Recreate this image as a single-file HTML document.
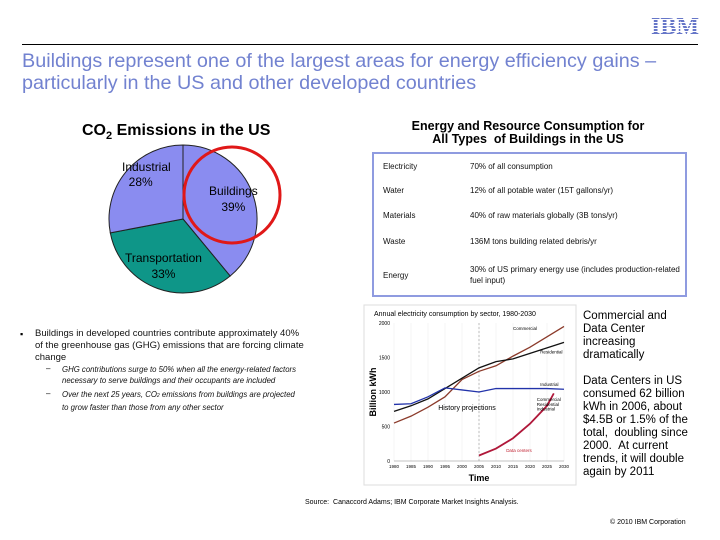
<!DOCTYPE html>
<html><head><meta charset="utf-8"><style>
body{margin:0;width:720px;height:540px;background:#fff;position:relative;overflow:hidden;font-family:"Liberation Sans",sans-serif;}
.a{position:absolute;white-space:nowrap;}
.tbl td{font-size:8px;color:#111;padding:0;}
</style></head><body>
<div class="a" style="left:651px;top:14px;font:bold 24px 'Liberation Serif',serif;color:#6676c8;letter-spacing:0px;">IBM</div>
<div class="a" style="left:648px;top:17px;width:52px;height:24px;background:repeating-linear-gradient(transparent 0 2px,#fff 2px 3px);"></div>
<div class="a" style="left:22px;top:44px;width:676px;height:1px;background:#000"></div>
<div class="a" style="left:22px;top:50px;font-size:19.8px;line-height:22px;color:#7282d0;">Buildings represent one of the largest areas for energy efficiency gains –<br>particularly in the US and other developed countries</div>

<div class="a" style="left:82px;top:122px;font-size:16px;font-weight:bold;">CO<sub style="font-size:11px">2</sub> Emissions in the US</div>
<svg class="a" style="left:0;top:0" width="720" height="540">
<g id="pie"></g>
<circle cx="232" cy="195" r="48" fill="none" stroke="#e01818" stroke-width="3"/>
</svg>
<div class="a" style="left:122px;top:160px;font-size:12px;line-height:15px;text-align:left">Industrial<br>&nbsp;&nbsp;28%</div>
<div class="a" style="left:209px;top:183px;font-size:12px;line-height:16px;text-align:center">Buildings<br>39%</div>
<div class="a" style="left:125px;top:250px;font-size:12px;line-height:16px;text-align:center">Transportation<br>33%</div>

<div class="a" style="left:380px;top:120px;width:296px;text-align:center;font-size:12.5px;font-weight:bold;line-height:13px;">Energy and Resource Consumption for<br>All Types &nbsp;of Buildings in the US</div>
<div class="a" style="left:372px;top:152px;width:311px;height:141px;border:2px solid #8f9be0;">
<table class="tbl" style="border-collapse:collapse;margin-left:9px;">
<tr style="height:24px"><td style="width:87px">Electricity</td><td>70% of all consumption</td></tr>
<tr style="height:25px"><td>Water</td><td>12% of all potable water (15T gallons/yr)</td></tr>
<tr style="height:25px"><td>Materials</td><td>40% of raw materials globally (3B tons/yr)</td></tr>
<tr style="height:27px"><td>Waste</td><td>136M tons building related debris/yr</td></tr>
<tr style="height:40px"><td>Energy</td><td style="line-height:11px">30% of US primary energy use (includes production-related<br>fuel input)</td></tr>
</table></div>

<div class="a" style="left:20px;top:328px;font-size:9px;line-height:12px">▪</div>
<div class="a" style="left:35px;top:328px;font-size:9.5px;line-height:12px;color:#111">Buildings in developed countries contribute approximately 40%<br>of the greenhouse gas (GHG) emissions that are forcing climate<br>change</div>
<div class="a" style="left:46px;top:364px;font-size:8px;line-height:10px">–</div>
<div class="a" style="left:62px;top:364px;font-size:7.8px;line-height:11px;color:#111;font-style:italic">GHG contributions surge to 50% when all the energy-related factors<br>necessary to serve buildings and their occupants are included</div>
<div class="a" style="left:46px;top:389px;font-size:8px;line-height:10px">–</div>
<div class="a" style="left:62px;top:389px;font-size:7.8px;line-height:11px;color:#111;font-style:italic">Over the next 25 years, CO<span style="font-size:5px">2</span> emissions from buildings are projected<br>to grow faster than those from any other sector</div>

<svg class="a" style="left:0;top:0" width="720" height="540" id="lc">
<rect x="364" y="305" width="212" height="180" fill="#fff" stroke="#ddd"/>
<text x="374" y="316" font-size="7" font-family="Liberation Sans">Annual electricity consumption by sector, 1980-2030</text>
<text transform="translate(376,392) rotate(-90)" text-anchor="middle" font-size="9" font-weight="bold" font-family="Liberation Sans">Billion kWh</text>
<text x="479" y="481" text-anchor="middle" font-size="9" font-weight="bold" font-family="Liberation Sans">Time</text>
<g id="lcg"></g>
</svg>

<div class="a" style="left:583px;top:310px;font-size:11.5px;line-height:13px">Commercial and<br>Data Center<br>increasing<br>dramatically</div>
<div class="a" style="left:583px;top:375px;font-size:11.5px;line-height:13px">Data Centers in US<br>consumed 62 billion<br>kWh in 2006, about<br>$4.5B or 1.5% of the<br>total, &nbsp;doubling since<br>2000. &nbsp;At current<br>trends, it will double<br>again by 2011</div>
<div class="a" style="left:305px;top:499px;font-size:7px">Source: &nbsp;Canaccord Adams; IBM Corporate Market Insights Analysis.</div>
<div class="a" style="left:610px;top:519px;font-size:7px">© 2010 IBM Corporation</div>

<script>
const pieLabels=["Buildings","Transportation","Industrial"];
const pieValues=[39,33,28];
const pieColors=["#8a8cf0","#0e9688","#8a8cf0"];
const years=[1980,1985,1990,1995,2000,2005,2010,2015,2020,2025,2030];
const commercial=[550,650,780,930,1180,1300,1380,1520,1650,1800,1950];
const residential=[720,800,900,1050,1200,1350,1440,1480,1560,1640,1720];
const industrial=[820,830,930,1060,1030,1000,1050,1050,1050,1050,1040];
const dcYears=[2005,2010,2015,2020,2025,2027];
const dataCenters=[80,180,330,540,800,980];
const yTicks=[0,500,1000,1500,2000];
const xTicks=[1980,1985,1990,1995,2000,2005,2010,2015,2020,2025,2030];
const NS="http://www.w3.org/2000/svg";
const pg=document.getElementById('pie');
const cx=183,cy=219,r=74,tot=pieValues.reduce((a,b)=>a+b,0);
let ang=-Math.PI/2;
pieValues.forEach((v,i)=>{
 const a2=ang+v/tot*2*Math.PI;
 const p=document.createElementNS(NS,'path');
 const x1=cx+r*Math.cos(ang),y1=cy+r*Math.sin(ang),x2=cx+r*Math.cos(a2),y2=cy+r*Math.sin(a2);
 p.setAttribute('d',`M${cx},${cy}L${x1},${y1}A${r},${r} 0 ${a2-ang>Math.PI?1:0} 1 ${x2},${y2}Z`);
 p.setAttribute('fill',pieColors[i]);p.setAttribute('stroke','#222');p.setAttribute('stroke-width','1');
 
 
 pg.appendChild(p);ang=a2;
});
const g=document.getElementById('lcg');
const X=y=>394+(y-1980)/50*170, Y=v=>461-v/2000*138;
function el(t,at){const e=document.createElementNS(NS,t);for(const k in at)e.setAttribute(k,at[k]);g.appendChild(e);return e;}
yTicks.forEach(t=>{const e=el('text',{x:390,y:Y(t)+2,'text-anchor':'end','font-size':5,'font-family':'Liberation Sans'});e.textContent=t;});
xTicks.forEach(t=>{el('line',{x1:X(t),x2:X(t),y1:Y(2000),y2:Y(0),stroke:'#eee','stroke-width':0.6});const e=el('text',{x:X(t),y:Y(0)+7,'text-anchor':'middle','font-size':4.5,'font-family':'Liberation Sans'});e.textContent=t;});
el('line',{x1:X(1980),x2:X(2030),y1:Y(0),y2:Y(0),stroke:'#888','stroke-width':0.6});
el('line',{x1:X(2005),x2:X(2005),y1:Y(2000),y2:Y(0),stroke:'#999','stroke-dasharray':'2,2','stroke-width':0.6});
function series(xs,vs,col,w,name){const p=el('polyline',{points:vs.map((v,i)=>X(xs[i])+','+Y(v)).join(' '),fill:'none',stroke:col,'stroke-width':w});}
series(years,commercial,'#8b3a2a',1.3,'commercial-line');
series(years,residential,'#111',1.3,'residential-line');
series(years,industrial,'#2233aa',1.3,'industrial-line');
series(dcYears,dataCenters,'#b0183a',1.8,'datacenter-line');
[['Commercial',X(2015),Y(1900)],['Residential',X(2023),Y(1560)],['Industrial',X(2023),Y(1090)],['Commercial',X(2022),Y(870)],['Residential',X(2022),Y(800)],['Industrial',X(2022),Y(730)]].forEach(l=>{const e=el('text',{x:l[1],y:l[2],'font-size':4.5,'font-family':'Liberation Sans'});e.textContent=l[0];});
const ht=el('text',{x:X(1993),y:Y(740),'font-size':7,'font-family':'Liberation Sans'});ht.textContent='History  projections';
const dc=el('text',{x:X(2013),y:Y(130),'font-size':4.5,fill:'#c02030','font-family':'Liberation Sans'});dc.textContent='Data centers';
</script>
</body></html>
